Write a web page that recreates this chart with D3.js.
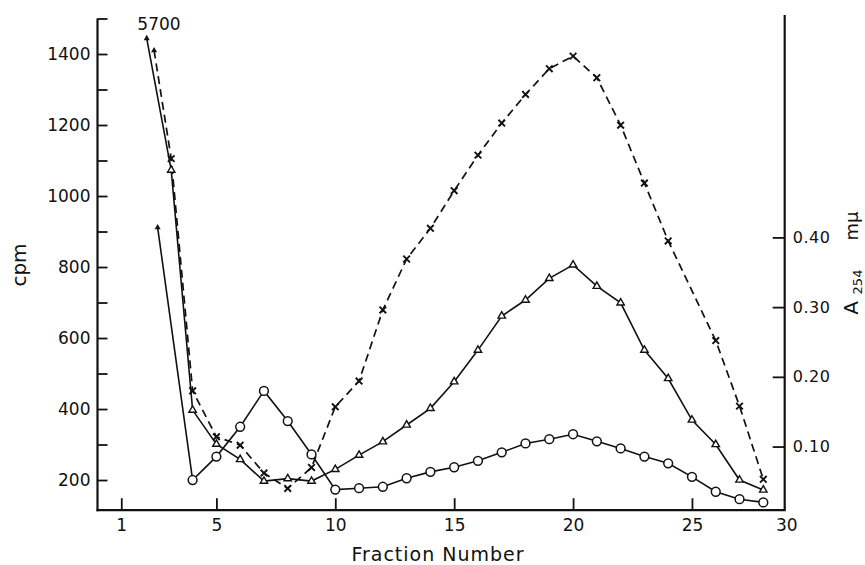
<!DOCTYPE html>
<html><head><meta charset="utf-8">
<script src="https://cdn.jsdelivr.net/npm/d3@7"></script>
<style>
body{margin:0;background:#fff;}
svg{display:block;}
text{font-family:"DejaVu Sans",sans-serif;fill:#111;}
</style></head><body>
<svg id="chart" width="865" height="565"></svg>
<script>
// ---- data ----
const triFractions = [2.07,3.1,4,5,6,7,8,9,10,11,12,13,14,15,16,17,18,19,20,21,22,23,24,25,26,27,28];
const triCpm = [1444,1073,397,301,258,197,204,197,230,270,308,355,402,477,566,662,707,768,806,746,699,566,486,369,300,200,172];

const circFractions = [2.53,4,5,6,7,8,9,10,11,12,13,14,15,16,17,18,19,20,21,22,23,24,25,26,27,28];
const circCpm = [911,200,266,350,451,366,272,173,177,181,205,223,236,254,278,303,315,329,309,289,266,247,209,167,146,137];

const absFractions = [2.38,3.1,4,5,6,7,8,9,10,11,12,13,14,15,16,17,18,19,20,21,22,23,24,26,27,28];
const absA254 = [0.668,0.513,0.180,0.114,0.102,0.062,0.040,0.070,0.157,0.194,0.296,0.369,0.413,0.467,0.518,0.564,0.605,0.642,0.660,0.629,0.561,0.478,0.395,0.252,0.158,0.053];

const cpmTicks = [200,400,600,800,1000,1200,1400];
const cpmMinorTicks = [300,500,700,900,1100,1300,1500];
const fractionTicks = [1,5,10,15,20,25];
const fractionEndLabel = "30";
const absTicks = [0.10,0.20,0.30,0.40];
const offScaleLabel = "5700";

// ---- scales ----
const svg = d3.select('#chart');
const x = d3.scaleLinear().domain([0, 28.9]).range([97.5, 784.7]);
const y = d3.scaleLinear().domain([115, 1500]).range([510.2, 18.5]);
const yR = d3.scaleLinear().domain([0.009, 0.719]).range([510, 15]);

const ink = '#111';

// ---- axes ----
const gL = svg.append('g').attr('transform', `translate(${x(0)},0)`)
  .call(d3.axisLeft(y).tickValues(cpmTicks.concat(cpmMinorTicks)).tickSize(-10).tickPadding(7)
    .tickFormat(d => cpmTicks.includes(d) ? String(d) : ''));
gL.select('.domain').remove();

const gB = svg.append('g').attr('transform', `translate(0,${y.range()[0]})`)
  .call(d3.axisBottom(x).tickValues(fractionTicks).tickSize(-12).tickPadding(9).tickFormat(d3.format('d')));
gB.select('.domain').remove();

const gR = svg.append('g').attr('transform', `translate(${x.range()[1]},0)`)
  .call(d3.axisRight(yR).tickValues(absTicks).tickSize(-12).tickPadding(8).tickFormat(d3.format('.2f')));
gR.select('.domain').remove();

[gL, gB, gR].forEach(g => {
  g.selectAll('.tick line').attr('stroke', ink).attr('stroke-width', 1.8);
  g.selectAll('.tick text').attr('fill', ink).style('font-size', '17px');
});
gR.selectAll('.tick text').style('font-size', '16px').style('letter-spacing', '0.5px');

// axis lines
svg.append('line').attr('x1', x(0)).attr('x2', x(0)).attr('y1', y(1500)).attr('y2', y.range()[0] + 1)
  .attr('stroke', ink).attr('stroke-width', 2.2);
svg.append('line').attr('x1', x(0) - 1).attr('x2', x.range()[1] + 1).attr('y1', y.range()[0]).attr('y2', y.range()[0])
  .attr('stroke', ink).attr('stroke-width', 2.2);
svg.append('line').attr('x1', x.range()[1]).attr('x2', x.range()[1]).attr('y1', yR.range()[1]).attr('y2', y.range()[0])
  .attr('stroke', ink).attr('stroke-width', 2.2);

svg.append('text').attr('x', x.range()[1] + 2).attr('y', y.range()[0] + 9).attr('dy', '0.71em')
  .attr('text-anchor', 'middle').style('font-size', '17px').text(fractionEndLabel);

// axis titles
svg.append('text').attr('x', 438).attr('y', 561).attr('text-anchor', 'middle')
  .style('font-size', '19px').style('letter-spacing', '1px').text('Fraction Number');
svg.append('text').attr('transform', 'translate(26,265) rotate(-90)').attr('text-anchor', 'middle')
  .style('font-size', '20px').text('cpm');
svg.append('text').attr('transform', 'translate(858,308) rotate(-90)').attr('text-anchor', 'middle')
  .style('font-size', '20px').text('A');
svg.append('text').attr('transform', 'translate(862,282) rotate(-90)').attr('text-anchor', 'middle')
  .style('font-size', '13px').text('254');
svg.append('text').attr('transform', 'translate(858,226) rotate(-90)').attr('text-anchor', 'middle')
  .style('font-size', '18px').text('mμ');

// ---- series ----
const triData = d3.zip(triFractions, triCpm).map(([f, v]) => ({px: x(f), py: y(v)}));
const circData = d3.zip(circFractions, circCpm).map(([f, v]) => ({px: x(f), py: y(v)}));
const absData = d3.zip(absFractions, absA254).map(([f, v]) => ({px: x(f), py: yR(v)}));

const line = d3.line().x(d => d.px).y(d => d.py);

svg.append('path').attr('d', line(absData)).attr('fill', 'none').attr('stroke', ink)
  .attr('stroke-width', 1.7).attr('stroke-dasharray', '8,5');
svg.append('path').attr('d', line(triData)).attr('fill', 'none').attr('stroke', ink).attr('stroke-width', 1.6);
svg.append('path').attr('d', line(circData)).attr('fill', 'none').attr('stroke', ink).attr('stroke-width', 1.6);

// off-scale start arrowheads
const arrow = d3.symbol().type(d3.symbolTriangle).size(16);
[triData[0], circData[0], absData[0]].forEach(d => {
  svg.append('path').attr('d', arrow()).attr('transform', `translate(${d.px},${d.py})`).attr('fill', ink);
});

// markers
const xMark = {draw(ctx, size) { const r = Math.sqrt(size) / 2; ctx.moveTo(-r, -r); ctx.lineTo(r, r); ctx.moveTo(r, -r); ctx.lineTo(-r, r); }};
svg.append('g').selectAll('path').data(absData.slice(1)).join('path')
  .attr('d', d3.symbol().type(xMark).size(44)).attr('transform', d => `translate(${d.px},${d.py})`)
  .attr('fill', 'none').attr('stroke', ink).attr('stroke-width', 1.9);

svg.append('g').selectAll('path').data(triData.slice(1)).join('path')
  .attr('d', d3.symbol().type(d3.symbolTriangle).size(24)).attr('transform', d => `translate(${d.px},${d.py})`)
  .attr('fill', '#fff').attr('stroke', ink).attr('stroke-width', 1.4);

svg.append('g').selectAll('circle').data(circData.slice(1)).join('circle')
  .attr('cx', d => d.px).attr('cy', d => d.py).attr('r', 4.4)
  .attr('fill', '#fff').attr('stroke', ink).attr('stroke-width', 1.5);

svg.append('text').attr('x', 159).attr('y', 30).attr('text-anchor', 'middle')
  .style('font-size', '17px').text(offScaleLabel);
</script>
</body></html>
